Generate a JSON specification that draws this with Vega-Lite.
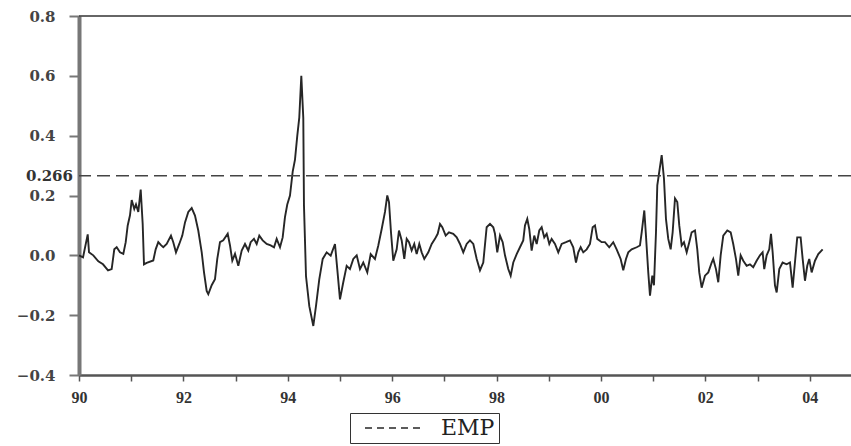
{
  "$schema": "https://vega.github.io/schema/vega-lite/v6.json",
  "width": 772,
  "height": 359,
  "autosize": {"type": "none"},
  "padding": {"left": 79, "top": 16, "right": 0, "bottom": 71},
  "background": "white",
  "config": {"view": {"stroke": null}},
  "datasets": {
    "emp": [
      {"t":1990.0,"v":0.0},{"t":1990.077,"v":-0.007},{"t":1990.167,"v":0.07},{"t":1990.192,"v":0.01},{"t":1990.274,"v":0.0},
      {"t":1990.37,"v":-0.02},{"t":1990.46,"v":-0.03},{"t":1990.556,"v":-0.05},{"t":1990.626,"v":-0.046},{"t":1990.676,"v":0.02},
      {"t":1990.722,"v":0.027},{"t":1990.785,"v":0.01},{"t":1990.849,"v":0.005},{"t":1990.895,"v":0.044},{"t":1990.933,"v":0.1},
      {"t":1990.977,"v":0.134},{"t":1991.01,"v":0.185},{"t":1991.059,"v":0.155},{"t":1991.092,"v":0.17},{"t":1991.136,"v":0.145},
      {"t":1991.182,"v":0.22},{"t":1991.22,"v":0.105},{"t":1991.245,"v":-0.03},{"t":1991.297,"v":-0.025},{"t":1991.423,"v":-0.017},
      {"t":1991.469,"v":0.02},{"t":1991.519,"v":0.044},{"t":1991.571,"v":0.034},{"t":1991.615,"v":0.027},{"t":1991.68,"v":0.038},
      {"t":1991.762,"v":0.066},{"t":1991.806,"v":0.044},{"t":1991.858,"v":0.01},{"t":1991.921,"v":0.038},{"t":1991.979,"v":0.066},
      {"t":1992.031,"v":0.11},{"t":1992.094,"v":0.145},{"t":1992.159,"v":0.158},{"t":1992.222,"v":0.133},{"t":1992.285,"v":0.083},
      {"t":1992.351,"v":0.01},{"t":1992.395,"v":-0.057},{"t":1992.446,"v":-0.119},{"t":1992.477,"v":-0.13},{"t":1992.542,"v":-0.1},
      {"t":1992.605,"v":-0.08},{"t":1992.649,"v":-0.012},{"t":1992.701,"v":0.044},{"t":1992.764,"v":0.05},{"t":1992.849,"v":0.072},
      {"t":1992.893,"v":0.033},{"t":1992.937,"v":-0.018},{"t":1992.989,"v":0.005},{"t":1993.052,"v":-0.035},{"t":1993.117,"v":0.016},
      {"t":1993.18,"v":0.038},{"t":1993.243,"v":0.016},{"t":1993.289,"v":0.044},{"t":1993.352,"v":0.055},{"t":1993.404,"v":0.038},
      {"t":1993.454,"v":0.066},{"t":1993.519,"v":0.05},{"t":1993.596,"v":0.038},{"t":1993.672,"v":0.033},{"t":1993.736,"v":0.027},
      {"t":1993.787,"v":0.055},{"t":1993.851,"v":0.027},{"t":1993.902,"v":0.06},{"t":1993.946,"v":0.128},{"t":1993.99,"v":0.17},
      {"t":1994.042,"v":0.2},{"t":1994.094,"v":0.28},{"t":1994.138,"v":0.32},{"t":1994.182,"v":0.4},{"t":1994.22,"v":0.46},
      {"t":1994.259,"v":0.6},{"t":1994.297,"v":0.46},{"t":1994.31,"v":0.167},{"t":1994.349,"v":-0.07},{"t":1994.412,"v":-0.17},
      {"t":1994.489,"v":-0.236},{"t":1994.54,"v":-0.17},{"t":1994.603,"v":-0.08},{"t":1994.669,"v":-0.012},{"t":1994.745,"v":0.01},
      {"t":1994.822,"v":-0.001},{"t":1994.904,"v":0.038},{"t":1994.948,"v":-0.046},{"t":1995.0,"v":-0.147},{"t":1995.063,"v":-0.09},
      {"t":1995.128,"v":-0.035},{"t":1995.191,"v":-0.046},{"t":1995.255,"v":-0.012},{"t":1995.32,"v":0.0},{"t":1995.383,"v":-0.046},
      {"t":1995.446,"v":-0.024},{"t":1995.523,"v":-0.057},{"t":1995.588,"v":0.004},{"t":1995.67,"v":-0.012},{"t":1995.734,"v":0.033},
      {"t":1995.799,"v":0.088},{"t":1995.862,"v":0.145},{"t":1995.906,"v":0.2},{"t":1995.939,"v":0.178},{"t":1995.977,"v":0.077},
      {"t":1996.021,"v":-0.018},{"t":1996.086,"v":0.02},{"t":1996.13,"v":0.083},{"t":1996.182,"v":0.05},{"t":1996.232,"v":-0.012},
      {"t":1996.278,"v":0.055},{"t":1996.322,"v":0.044},{"t":1996.373,"v":0.016},{"t":1996.423,"v":0.038},{"t":1996.469,"v":0.004},
      {"t":1996.519,"v":0.038},{"t":1996.565,"v":0.01},{"t":1996.615,"v":-0.012},{"t":1996.692,"v":0.01},{"t":1996.757,"v":0.038},
      {"t":1996.82,"v":0.055},{"t":1996.872,"v":0.072},{"t":1996.916,"v":0.105},{"t":1996.96,"v":0.094},{"t":1997.025,"v":0.066},
      {"t":1997.088,"v":0.077},{"t":1997.17,"v":0.072},{"t":1997.236,"v":0.06},{"t":1997.299,"v":0.038},{"t":1997.362,"v":0.01},
      {"t":1997.427,"v":0.038},{"t":1997.49,"v":0.05},{"t":1997.554,"v":0.038},{"t":1997.619,"v":-0.012},{"t":1997.682,"v":-0.05},
      {"t":1997.745,"v":-0.024},{"t":1997.81,"v":0.094},{"t":1997.874,"v":0.105},{"t":1997.937,"v":0.094},{"t":1997.969,"v":0.072},
      {"t":1998.013,"v":0.01},{"t":1998.065,"v":0.066},{"t":1998.117,"v":0.044},{"t":1998.161,"v":0.0},{"t":1998.224,"v":-0.046},
      {"t":1998.27,"v":-0.068},{"t":1998.32,"v":-0.024},{"t":1998.385,"v":0.004},{"t":1998.448,"v":0.027},{"t":1998.511,"v":0.05},
      {"t":1998.544,"v":0.1},{"t":1998.588,"v":0.122},{"t":1998.626,"v":0.088},{"t":1998.672,"v":0.016},{"t":1998.722,"v":0.066},
      {"t":1998.768,"v":0.038},{"t":1998.818,"v":0.083},{"t":1998.864,"v":0.094},{"t":1998.914,"v":0.06},{"t":1998.96,"v":0.072},
      {"t":1999.01,"v":0.038},{"t":1999.055,"v":0.055},{"t":1999.119,"v":0.038},{"t":1999.182,"v":0.01},{"t":1999.247,"v":0.038},
      {"t":1999.33,"v":0.044},{"t":1999.406,"v":0.05},{"t":1999.469,"v":0.027},{"t":1999.521,"v":-0.024},{"t":1999.565,"v":0.01},
      {"t":1999.611,"v":0.027},{"t":1999.661,"v":0.01},{"t":1999.726,"v":0.02},{"t":1999.789,"v":0.038},{"t":1999.841,"v":0.094},
      {"t":1999.885,"v":0.1},{"t":1999.929,"v":0.055},{"t":2000.013,"v":0.044},{"t":2000.076,"v":0.044},{"t":2000.158,"v":0.027},
      {"t":2000.235,"v":0.044},{"t":2000.3,"v":0.02},{"t":2000.377,"v":-0.012},{"t":2000.427,"v":-0.05},{"t":2000.479,"v":-0.012},
      {"t":2000.523,"v":0.01},{"t":2000.588,"v":0.02},{"t":2000.684,"v":0.027},{"t":2000.747,"v":0.033},{"t":2000.78,"v":0.077},
      {"t":2000.83,"v":0.15},{"t":2000.862,"v":0.066},{"t":2000.906,"v":-0.057},{"t":2000.939,"v":-0.135},{"t":2000.983,"v":-0.068},
      {"t":2001.015,"v":-0.1},{"t":2001.054,"v":0.077},{"t":2001.079,"v":0.234},{"t":2001.117,"v":0.28},{"t":2001.163,"v":0.335},
      {"t":2001.207,"v":0.256},{"t":2001.245,"v":0.122},{"t":2001.289,"v":0.055},{"t":2001.335,"v":0.02},{"t":2001.373,"v":0.077},
      {"t":2001.418,"v":0.19},{"t":2001.462,"v":0.178},{"t":2001.5,"v":0.1},{"t":2001.546,"v":0.033},{"t":2001.59,"v":0.044},
      {"t":2001.642,"v":0.01},{"t":2001.692,"v":0.044},{"t":2001.737,"v":0.077},{"t":2001.801,"v":0.083},{"t":2001.845,"v":0.02},
      {"t":2001.883,"v":-0.057},{"t":2001.929,"v":-0.108},{"t":2001.992,"v":-0.068},{"t":2002.056,"v":-0.057},{"t":2002.121,"v":-0.024},
      {"t":2002.151,"v":-0.012},{"t":2002.203,"v":-0.046},{"t":2002.247,"v":-0.09},{"t":2002.293,"v":0.0},{"t":2002.343,"v":0.066},
      {"t":2002.42,"v":0.083},{"t":2002.485,"v":0.077},{"t":2002.534,"v":0.038},{"t":2002.586,"v":-0.012},{"t":2002.63,"v":-0.068},
      {"t":2002.676,"v":0.0},{"t":2002.726,"v":-0.018},{"t":2002.791,"v":-0.035},{"t":2002.854,"v":-0.03},{"t":2002.917,"v":-0.04},
      {"t":2002.982,"v":-0.018},{"t":2003.046,"v":0.0},{"t":2003.097,"v":0.01},{"t":2003.128,"v":-0.046},{"t":2003.174,"v":0.0},
      {"t":2003.224,"v":0.02},{"t":2003.257,"v":0.072},{"t":2003.289,"v":0.01},{"t":2003.333,"v":-0.1},{"t":2003.366,"v":-0.124},
      {"t":2003.416,"v":-0.046},{"t":2003.48,"v":-0.024},{"t":2003.557,"v":-0.03},{"t":2003.621,"v":-0.024},{"t":2003.672,"v":-0.108},
      {"t":2003.716,"v":-0.024},{"t":2003.76,"v":0.06},{"t":2003.825,"v":0.06},{"t":2003.864,"v":-0.012},{"t":2003.908,"v":-0.085},
      {"t":2003.952,"v":-0.035},{"t":2003.99,"v":-0.012},{"t":2004.036,"v":-0.057},{"t":2004.1,"v":-0.018},{"t":2004.163,"v":0.004},
      {"t":2004.247,"v":0.02}
    ],
    "thr": [{"t": 1990, "v": 0.266, "label": "0.266"}],
    "frame": [{"v": 0.8}]
  },
  "layer": [
    {
      "data": {"name": "emp"},
      "mark": {"type": "line", "strokeWidth": 1.9},
      "encoding": {
        "x": {
          "field": "t", "type": "quantitative",
          "scale": {"domain": [1990, 2004.79], "nice": false, "zero": false},
          "axis": {
            "values": [1990,1991,1992,1993,1994,1995,1996,1997,1998,1999,2000,2001,2002,2003,2004],
            "labelExpr": "datum.value % 2 == 0 ? substring(toString(datum.value), 2, 4) : ''",
            "labelFlush": false,
            "title": null, "grid": false,
            "tickSize": 6, "tickWidth": 1.5, "tickColor": "#555",
            "domainColor": "#555", "domainWidth": 2.5,
            "labelFont": "Liberation Serif", "labelFontWeight": "bold", "labelFontSize": 16, "labelColor": "#333",
            "labelPadding": 8
          }
        },
        "y": {
          "field": "v", "type": "quantitative",
          "scale": {"domain": [-0.4, 0.8], "nice": false, "zero": false},
          "axis": {
            "values": [-0.4, -0.2, 0, 0.2, 0.4, 0.6, 0.8],
            "format": ".1f",
            "labelFlush": false,
            "title": null, "grid": false,
            "tickSize": 10, "tickWidth": 2, "tickColor": "#777",
            "domainColor": "#777", "domainWidth": 4,
            "labelFont": "DejaVu Serif", "labelFontWeight": "bold", "labelFontSize": 15, "labelColor": "#444",
            "labelPadding": 14
          }
        },
        "color": {
          "datum": "EMP", "type": "nominal",
          "scale": {"range": ["#262626"]},
          "legend": {
            "orient": "none", "legendX": 271, "legendY": 397,
            "title": null,
            "symbolType": "M-2.9,0H2.9",
            "symbolSize": 400,
            "symbolDash": [7, 5],
            "symbolStrokeWidth": 1.5,
            "symbolStrokeColor": "#333",
            "symbolOffset": 29,
            "labelOffset": 36,
            "labelFont": "DejaVu Serif",
            "labelFontSize": 22,
            "labelColor": "#222",
            "padding": 4,
            "strokeColor": "#333",
            "fillColor": "white",
            "cornerRadius": 0
          }
        }
      }
    },
    {
      "data": {"name": "thr"},
      "mark": {"type": "rule", "strokeDash": [13, 6], "color": "#444", "strokeWidth": 1.5},
      "encoding": {"y": {"field": "v", "type": "quantitative"}}
    },
    {
      "data": {"name": "thr"},
      "mark": {"type": "text", "align": "right", "baseline": "middle", "dx": -6, "font": "DejaVu Serif", "fontWeight": "bold", "fontSize": 15, "color": "#333"},
      "encoding": {
        "x": {"field": "t", "type": "quantitative"},
        "y": {"field": "v", "type": "quantitative"},
        "text": {"field": "label"}
      }
    },
    {
      "data": {"name": "frame"},
      "mark": {"type": "rule", "color": "#333", "strokeWidth": 1.5},
      "encoding": {"y": {"field": "v", "type": "quantitative"}}
    }
  ]
}
